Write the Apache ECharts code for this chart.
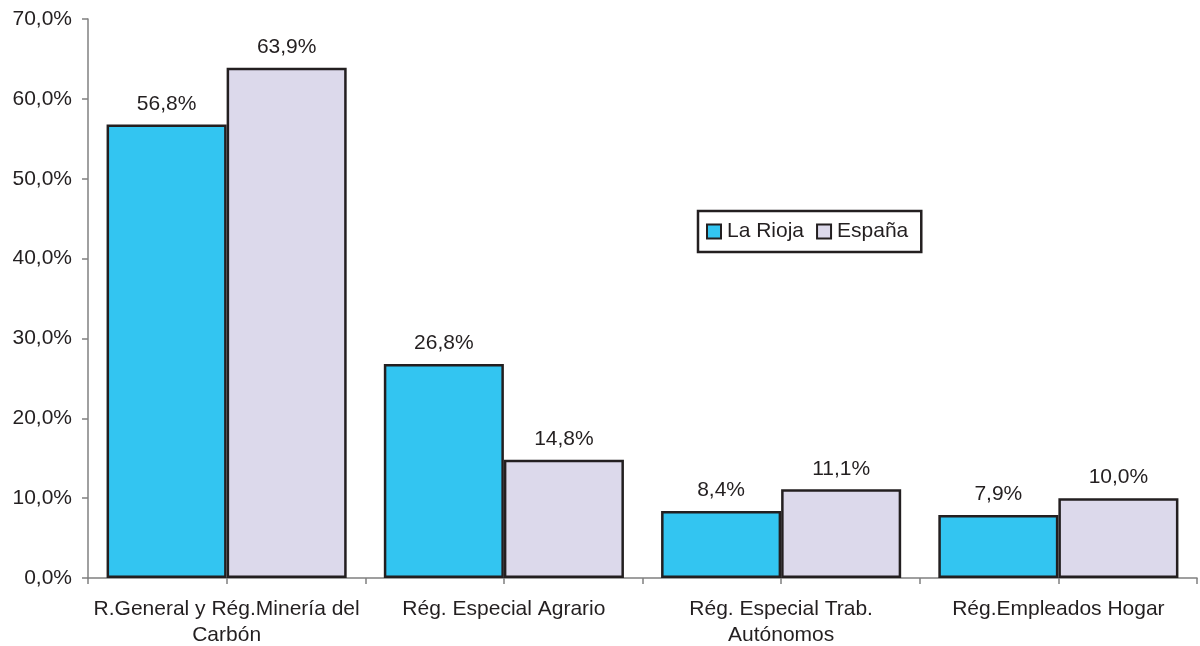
<!DOCTYPE html>
<html><head><meta charset="utf-8">
<script src="https://cdn.jsdelivr.net/npm/echarts@6/dist/echarts.min.js"></script>
<style>html,body{margin:0;padding:0;background:#fff}#c{width:1200px;height:646px}</style>
</head><body><div id="c"></div>
<script>
const categories = ["R.General y Rég.Minería del\nCarbón", "Rég. Especial Agrario", "Rég. Especial Trab.\nAutónomos", "Rég.Empleados Hogar"];
const laRioja = [56.8, 26.8, 8.4, 7.9];
const espana = [63.9, 14.8, 11.1, 10.0];
const yTicks = [0, 10, 20, 30, 40, 50, 60, 70];

const fmt = v => v.toFixed(1).replace('.', ',') + '%';
const font = 'Liberation Sans';
const txt = '#231F20';
const fs = 21;
const chart = echarts.init(document.getElementById('c'));
const halfCats = [];
categories.forEach((c, i) => { halfCats.push('a' + i); halfCats.push('b' + i); });

chart.setOption({
  animation: false,
  textStyle: { fontFamily: font },
  grid: { left: 88, right: 3, top: 19, bottom: 68, containLabel: false, outerBoundsMode: 'none' },
  legend: {
    left: 698, top: 211,
    padding: [10, 13, 10, 8],
    borderColor: txt, borderWidth: 2.5,
    icon: 'rect',
    itemWidth: 14, itemHeight: 14, itemGap: 12,
    textStyle: { fontSize: fs, color: txt, fontFamily: font, padding: [0, 0, 0, 1] },
    data: ['La Rioja', 'España']
  },
  xAxis: [{
    type: 'category', data: categories,
    axisLine: { lineStyle: { color: '#808080', width: 1.5 } },
    axisTick: { show: false },
    axisLabel: { fontSize: fs, color: txt, margin: 18, lineHeight: 26, fontFamily: font, interval: 0 }
  }, {
    type: 'category', data: halfCats, position: 'bottom',
    axisLine: { show: false },
    axisTick: { show: true, length: 6, lineStyle: { color: '#808080', width: 1.5 } },
    axisLabel: { show: false }
  }],
  yAxis: {
    type: 'value', min: 0, max: 70, interval: 10,
    axisLine: { show: true, lineStyle: { color: '#808080', width: 1.5 } },
    axisTick: { show: true, length: 6, lineStyle: { color: '#808080', width: 1.5 } },
    splitLine: { show: false },
    axisLabel: { fontSize: fs, color: txt, margin: 16, fontFamily: font, formatter: v => fmt(v) }
  },
  series: [{
    name: 'La Rioja', type: 'bar', data: laRioja, barGap: '0%', barCategoryGap: '13.4%',
    itemStyle: { color: '#33C5F1', borderColor: txt, borderWidth: 2.5 },
    label: { show: true, position: 'top', distance: 10, fontSize: fs, color: txt, fontFamily: font, formatter: p => fmt(p.value) }
  }, {
    name: 'España', type: 'bar', data: espana, barGap: '0%', barCategoryGap: '13.4%',
    itemStyle: { color: '#DCD9EB', borderColor: txt, borderWidth: 2.5 },
    label: { show: true, position: 'top', distance: 10, fontSize: fs, color: txt, fontFamily: font, formatter: p => fmt(p.value) }
  }]
});
</script></body></html>
